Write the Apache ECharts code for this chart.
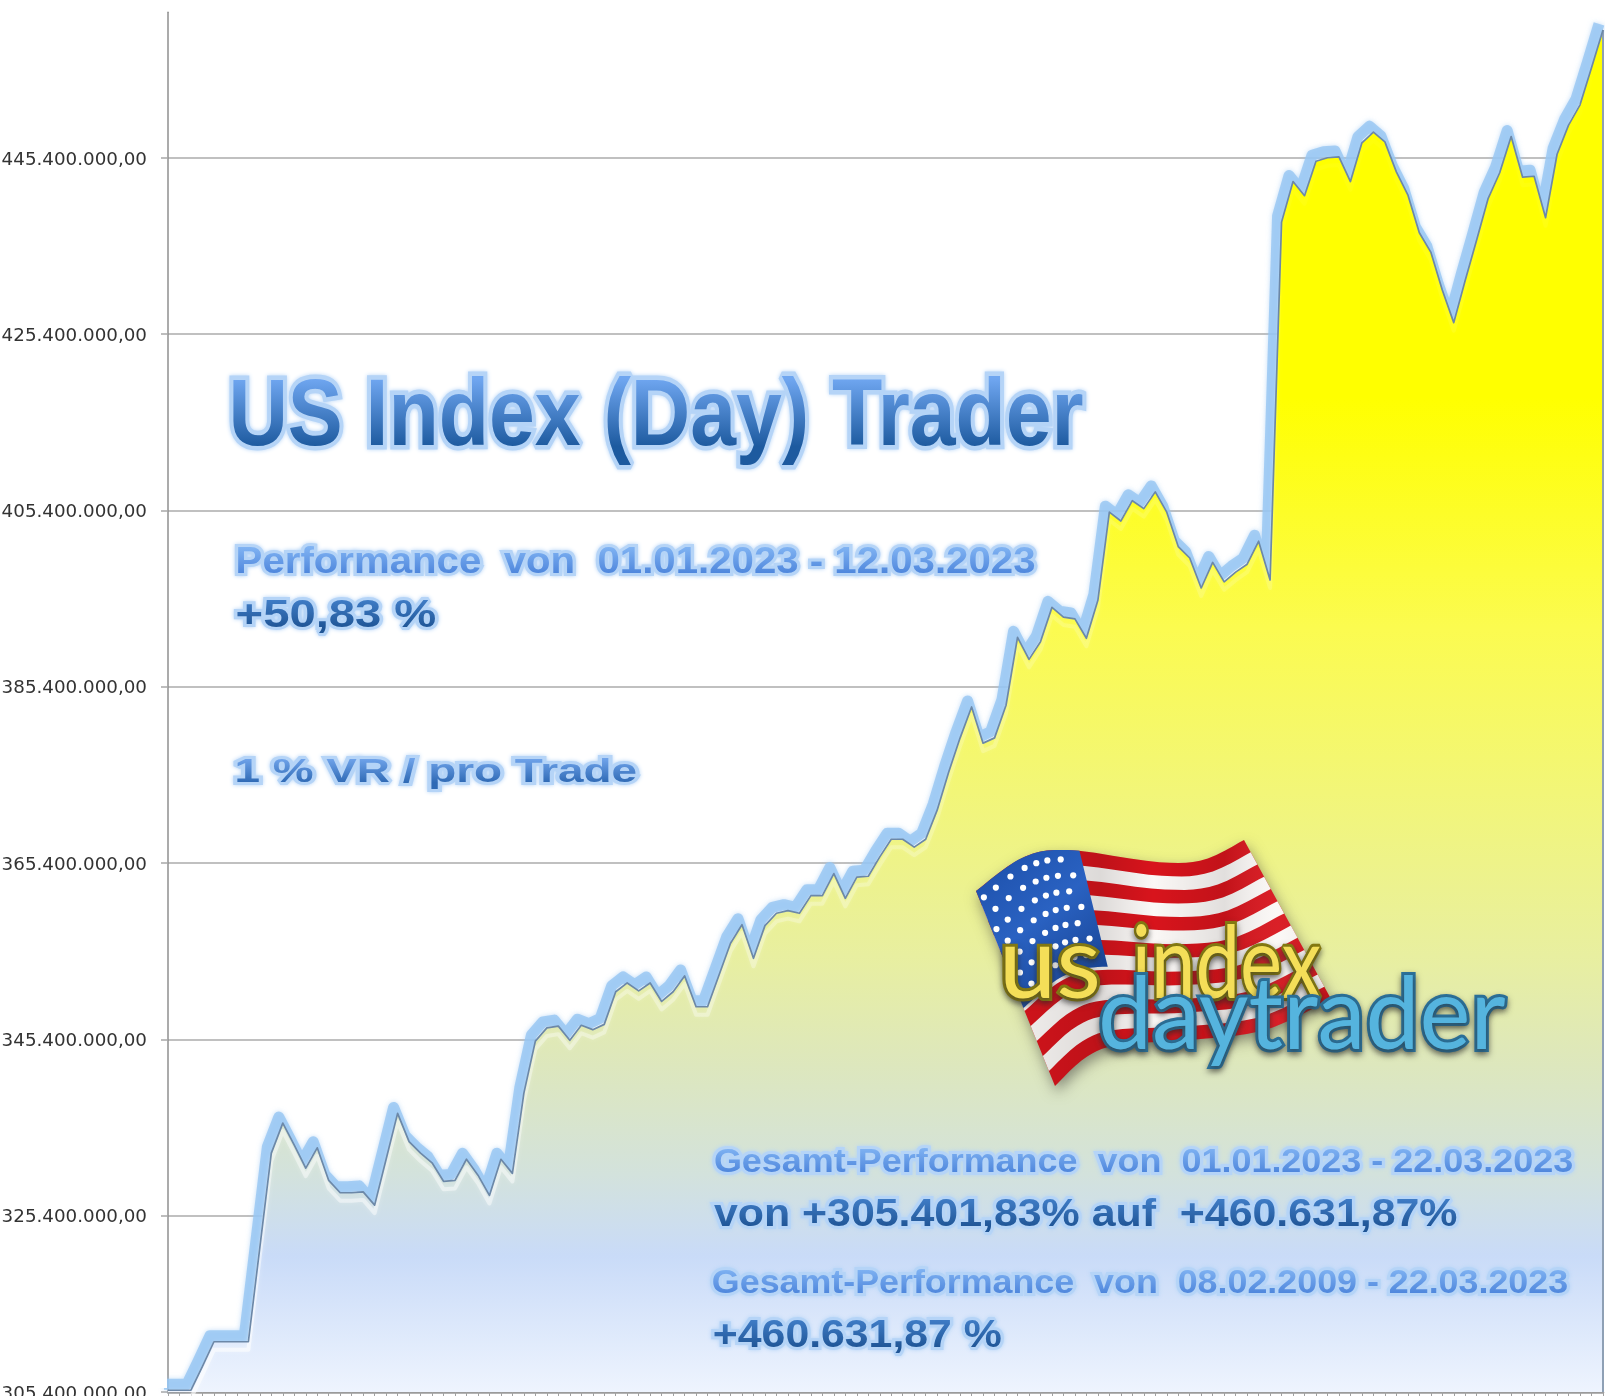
<!DOCTYPE html>
<html>
<head>
<meta charset="utf-8">
<style>html,body{margin:0;padding:0;background:#fff}#chart{width:1606px;height:1396px}</style>
<script src="https://cdn.jsdelivr.net/npm/echarts@6/dist/echarts.min.js"></script>
</head>
<body>
<div id="chart"></div>
<script>
// Account value in millions, one per trading day
const accountMillions = [
305.6,305.6,305.6,308.3,311.1,311.1,311.1,311.1,321.8,332.5,
335.9,333.4,330.8,333.1,329.4,328.0,328.0,328.1,326.6,331.8,
337.0,333.8,332.5,331.4,329.3,329.4,331.8,330.0,327.7,331.8,
330.2,339.3,345.2,346.7,346.9,345.3,347.0,346.5,347.1,350.8,
351.8,350.9,351.8,349.7,350.8,352.6,349.1,349.1,352.7,356.3,
358.4,354.6,358.3,359.7,360.0,359.7,361.7,361.7,364.2,361.4,
363.8,363.9,366.1,368.1,368.1,367.2,368.1,371.4,375.7,379.6,
383.1,379.0,379.6,383.3,391.0,388.5,390.5,394.4,393.3,393.1,
390.9,395.2,405.2,404.2,406.5,405.6,407.5,405.2,401.3,400.0,
396.6,399.5,397.3,398.4,399.3,401.9,397.5,438.1,442.7,441.1,
445.0,445.4,445.5,442.7,447.1,448.3,447.2,443.8,441.2,436.9,
434.7,430.4,426.7,431.5,436.1,440.8,443.7,447.8,443.2,443.3,
438.6,445.8,449.1,451.4,455.6,459.9];
const dayIndex = accountMillions.map((_, i) => String(i));
const yTickValues = [305.4,325.4,345.4,365.4,385.4,405.4,425.4,445.4];
const yTickLabels = ['305.400.000,00','325.400.000,00','345.400.000,00','365.400.000,00','385.400.000,00','405.400.000,00','425.400.000,00','445.400.000,00'];
const yMin = 305.4, yMax = 461.9;

const S = 1606/1568;
const mctx = document.createElement('canvas').getContext('2d');

// Vertical gradient fill for the headline texts: zrender only takes string fills for text
const textGradients = {};
const nativeFillText = CanvasRenderingContext2D.prototype.fillText;
CanvasRenderingContext2D.prototype.fillText = function(t,x,y,m){
  const g = textGradients[t];
  if(!g) return m===undefined?nativeFillText.call(this,t,x,y):nativeFillText.call(this,t,x,y,m);
  const prev=this.fillStyle; this.fillStyle=g;
  nativeFillText.call(this,t,x,y);
  this.fillStyle=prev;
};

const MID=0.29;
function labelText(o){
  const fs=o.size, font=(o.weight||'bold')+' '+fs+'px '+(o.family||'"Liberation Sans"');
  mctx.font=font;
  const w=mctx.measureText(o.text).width;
  const g=mctx.createLinearGradient(0,-(0.72-MID)*fs,0,MID*fs);
  g.addColorStop(0,o.c1); g.addColorStop(1,o.c2);
  textGradients[o.text]=g;
  return {type:'text',silent:true,z:50,x:o.x*S,y:o.base*S-MID*fs,scaleX:(o.x2-o.x)*S/w,originX:0,originY:0,
    style:{text:o.text,font:font,fill:o.c2,stroke:o.glow,lineWidth:o.lw,align:'left',verticalAlign:'middle',
      textShadowColor:o.glow,textShadowBlur:o.blur==null?4:o.blur}};
}
const LIGHT={c1:'#7fb2f2',c2:'#4e86dc',glow:'#b5d4f7',lw:6};
const DARK={c1:'#3f7cc6',c2:'#1f5596',glow:'#b5d4f7',lw:6};
const texts=[
 Object.assign({text:'US Index (Day) Trader',x:223,x2:1058,base:436,size:94,lw:9,c1:'#6fa6f0',c2:'#1d5a9f',glow:'#b5d4f7'}),
 Object.assign({text:'Performance  von  01.01.2023 - 12.03.2023',x:230,x2:1011,base:560,size:36},LIGHT),
 Object.assign({text:'+50,83 %',x:230,x2:426,base:613,size:39},DARK),
 Object.assign({text:'1 % VR / pro Trade',x:229,x2:622,base:764,size:33},DARK,{c1:'#6fa3ea',c2:'#2f6ab5'}),
 Object.assign({text:'Gesamt-Performance  von  01.01.2023 - 22.03.2023',x:697,x2:1536,base:1145,size:34},LIGHT),
 Object.assign({text:'von +305.401,83% auf  +460.631,87%',x:697,x2:1423,base:1198,size:39},DARK),
 Object.assign({text:'Gesamt-Performance  von  08.02.2009 - 22.03.2023',x:695,x2:1531,base:1263,size:34},LIGHT),
 Object.assign({text:'+460.631,87 %',x:696,x2:978,base:1316,size:39},DARK)
].map(labelText);

// ---- decorative logo (not data) ----
function cr(pts,t){
  const n=pts.length-1, f=Math.min(t*n,n-1e-6), i=Math.floor(f), u=f-i;
  const p0=pts[Math.max(i-1,0)],p1=pts[i],p2=pts[i+1],p3=pts[Math.min(i+2,n)];
  return [0,1].map(k=>0.5*(2*p1[k]+(p2[k]-p0[k])*u+(2*p0[k]-5*p1[k]+4*p2[k]-p3[k])*u*u+(3*p1[k]-p0[k]-3*p2[k]+p3[k])*u*u*u));
}
const flagTop=[[976,891],[1022,858],[1068,850],[1157,862],[1203,860],[1244,840]];
const flagBot=[[1055,1086],[1085,1058],[1118,1045],[1190,1040],[1265,1030],[1331,999]];
function P(u,v){const a=cr(flagTop,u),b=cr(flagBot,u);return [a[0]+(b[0]-a[0])*v,a[1]+(b[1]-a[1])*v];}
function band(u0,u1,v0,v1){
  const pts=[],N=28;
  for(let i=0;i<=N;i++)pts.push(P(u0+(u1-u0)*i/N,v0));
  for(let i=N;i>=0;i--)pts.push(P(u0+(u1-u0)*i/N,v1));
  return pts;
}
function poly(points,fill,extra){return {type:'polygon',silent:true,z:40,shape:{points:points},style:Object.assign({fill:fill},extra||{})};}
const logo=[];
logo.push(poly(band(0,1,0,1),'#d8141c',{shadowBlur:14,shadowColor:'rgba(60,60,60,0.55)',shadowOffsetX:2,shadowOffsetY:6}));
for(let s=0;s<13;s++){
  if(s%2===1)logo.push(poly(band(0,1,s/13,(s+1)/13),'#fbf8f6'));
}
logo.push(poly(band(0,1,0,1),{type:'linear',x:0,y:0,x2:1,y2:0,colorStops:[
 {offset:0,color:'rgba(0,0,0,0)'},{offset:.35,color:'rgba(0,0,0,0.12)'},{offset:.5,color:'rgba(0,0,0,0.0)'},
 {offset:.7,color:'rgba(0,0,0,0.1)'},{offset:.85,color:'rgba(255,255,255,0.05)'},{offset:1,color:'rgba(0,0,0,0.1)'}]}));
logo.push(poly(band(0,0.43,0,0.6),{type:'linear',x:0,y:0,x2:1,y2:1,colorStops:[
 {offset:0,color:'#1c4ea8'},{offset:.45,color:'#2a62c2'},{offset:1,color:'#123a85'}]}));
for(let r=0;r<7;r++){
  for(let c=0;c<7;c++){
    const u=(c+(r%2?1.0:0.5))*0.43/7.6, v=(r+0.6)*0.6/7.4, p=P(u,v);
    logo.push({type:'circle',silent:true,z:41,shape:{cx:p[0],cy:p[1],r:3.1},style:{fill:'#fff'}});
  }
}
function logoText(t,x,x2,base,size,fill,stroke,lw){
  const font='normal '+size+'px "Lato"';
  mctx.font=font;
  const w=mctx.measureText(t).width;
  return {type:'text',silent:true,z:45,x:x*S,y:base*S-0.30*size,scaleX:(x2-x)*S/w,originX:0,originY:0,
    style:{text:t,font:font,fill:fill,stroke:stroke,lineWidth:lw,align:'left',verticalAlign:'middle',
      textShadowColor:'rgba(40,40,40,0.55)',textShadowBlur:6,textShadowOffsetY:3}};
}
logo.push(logoText('us',975,1075,972,100,'#f4de58','#857a10',6));
logo.push(logoText('index',1105,1290,972,100,'#f4de58','#857a10',6));
logo.push(logoText('daytrader',1072,1470,1022,100,'#55b4de','#2a7099',6));

// trims the glow's start so that it begins at the y axis
const glowTrim={type:'rect',silent:true,z:3,shape:{x:150,y:1368,width:17,height:20},style:{fill:'#fff'}};

const chart = echarts.init(document.getElementById('chart'), null, {width:1606, height:1396});
const hiddenX=i=>({type:'category',gridIndex:i,data:dayIndex,boundaryGap:false,show:false});
const hiddenY=i=>({type:'value',gridIndex:i,min:yMin,max:yMax,show:false,splitLine:{show:false}});

chart.setOption({
  animation:false,
  backgroundColor:'#fff',
  grid:[
    {left:168,right:3,top:12.3,bottom:4,outerBoundsMode:'none'},
    {left:164,right:7,top:6.3,bottom:10,outerBoundsMode:'none'},
    {left:168,right:3,top:20.3,bottom:-4,outerBoundsMode:'none'},
    {left:168,right:3,top:14.3,bottom:2,outerBoundsMode:'none'}],
  xAxis:[
    {type:'category',gridIndex:0,data:dayIndex,boundaryGap:false,
     axisLine:{lineStyle:{color:'#9a9a9a',width:2.5}},
     axisTick:{show:true,interval:0,length:4,lineStyle:{color:'#a0a0a0',width:1}},
     axisLabel:{show:false},splitLine:{show:false}},
    hiddenX(1),hiddenX(2),hiddenX(3)],
  yAxis:[
    {type:'value',gridIndex:0,min:yMin,max:yMax,
     axisLine:{show:true,lineStyle:{color:'#8f8f8f',width:1.5}},
     axisTick:{show:true,length:7,customValues:yTickValues,lineStyle:{color:'#a8a8a8',width:1.5}},
     axisLabel:{show:false},
     splitLine:{show:true,lineStyle:{color:'#ababab',width:1.5}}},
    hiddenY(1),hiddenY(2),
    {type:'value',gridIndex:3,min:yMin,max:yMax,
     axisLine:{show:false},axisTick:{show:false},splitLine:{show:false},
     axisLabel:{show:true,margin:21,customValues:yTickValues,fontFamily:'"DejaVu Sans"',fontSize:18.3,color:'#333',hideOverlap:false,
       formatter:v=>yTickLabels[yTickValues.findIndex(t=>Math.abs(t-v)<0.01)]||''}}],
  series:[
    {name:'glow',type:'line',xAxisIndex:1,yAxisIndex:1,data:accountMillions,symbol:'none',clip:false,z:2,silent:true,
     lineStyle:{color:'rgba(150,197,243,0.8)',width:11,join:'round',shadowColor:'rgba(150,197,243,0.7)',shadowBlur:5}},
    {name:'area',type:'line',xAxisIndex:0,yAxisIndex:0,data:accountMillions,symbol:'none',z:3,silent:true,
     lineStyle:{width:0},
     areaStyle:{opacity:1,color:{type:'linear',x:0,y:0,x2:0,y2:1,colorStops:[
       {offset:0,color:'#ffff00'},{offset:.27,color:'#ffff00'},{offset:.44,color:'#fbfb50'},
       {offset:.56,color:'#f2f678'},{offset:.68,color:'#e8efa0'},{offset:.76,color:'#dde7bd'},
       {offset:.84,color:'#d3e2dc'},{offset:.90,color:'#c9dbf8'},{offset:1,color:'#eef4fe'}]}}},
    {name:'bevel',type:'line',xAxisIndex:2,yAxisIndex:2,data:accountMillions,symbol:'none',clip:false,z:4,silent:true,
     lineStyle:{width:4,join:'round',shadowBlur:4,shadowColor:'rgba(255,255,255,0.5)',color:{type:'linear',x:0,y:0,x2:0,y2:1,colorStops:[
       {offset:0,color:'rgba(255,255,255,0.0)'},{offset:.6,color:'rgba(255,255,255,0.22)'},{offset:1,color:'rgba(255,255,255,0.6)'}]}}},
    {name:'line',type:'line',xAxisIndex:0,yAxisIndex:0,data:accountMillions,symbol:'none',z:5,silent:true,
     lineStyle:{color:'#6c88a8',width:1.7,join:'round'},
     markLine:{silent:true,symbol:'none',label:{show:false},lineStyle:{color:'#8ea0b5',width:2,type:'solid'},
       data:[[{coord:[dayIndex[dayIndex.length-1],accountMillions[accountMillions.length-1]]},{coord:[dayIndex[dayIndex.length-1],yMin]}]]}}
  ],
  graphic:{elements:[glowTrim].concat(logo,texts)}
});
</script>
</body>
</html>
